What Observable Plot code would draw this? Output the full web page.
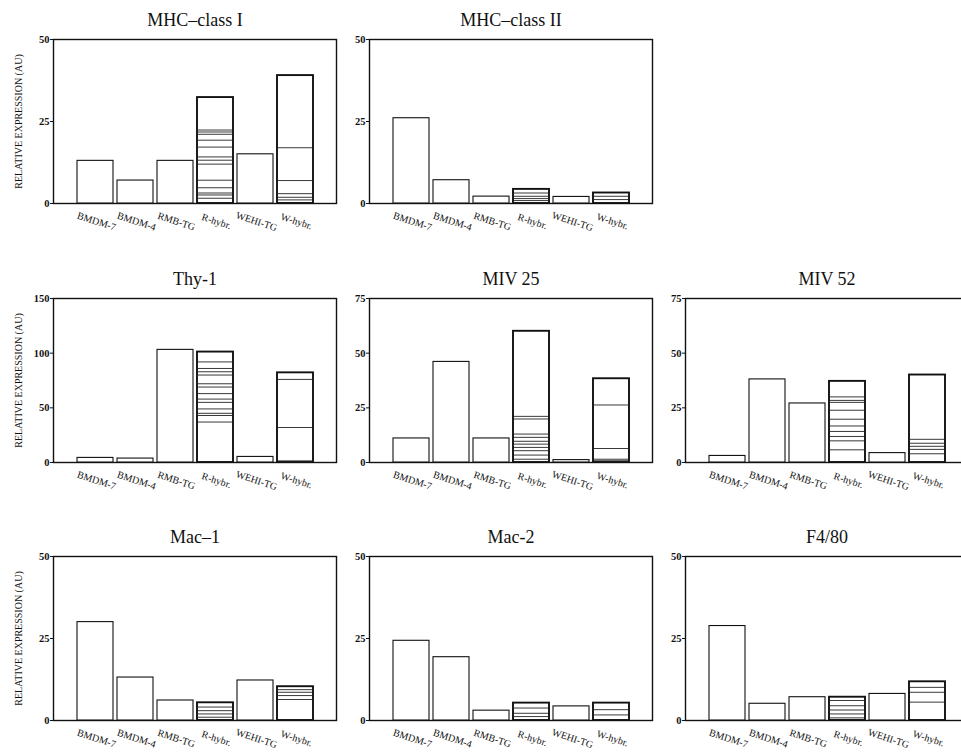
<!DOCTYPE html>
<html>
<head>
<meta charset="utf-8">
<script src="https://cdn.jsdelivr.net/npm/d3@7"></script>
<script src="https://cdn.jsdelivr.net/npm/@observablehq/plot@0.6"></script>
<style>
  html, body { margin: 0; padding: 0; background: #fff; }
  #chart { position: relative; width: 961px; height: 752px; overflow: hidden; background: #fff; }
  #chart > div { position: absolute; }
  #chart svg { max-width: none !important; }
</style>
</head>
<body>
<div id="chart"></div>
<script>
// ---- data ----
const categories = ["BMDM-7", "BMDM-4", "RMB-TG", "R-hybr.", "WEHI-TG", "W-hybr."];
const panelTitles = ["MHC–class I", "MHC–class II", "Thy-1", "MIV 25", "MIV 52", "Mac–1", "Mac-2", "F4/80"];
const yMaxima = [50, 50, 150, 75, 75, 50, 50, 50];
const yTickValues = [[0, 25, 50], [0, 25, 50], [0, 50, 100, 150], [0, 25, 50, 75], [0, 25, 50, 75], [0, 25, 50], [0, 25, 50], [0, 25, 50]];
const yAxisLabel = "RELATIVE EXPRESSION (AU)";

// bar heights per panel, in category order
const mhcI   = [13, 7, 13, 32.3, 15, 39];
const mhcII  = [26, 7.1, 2.1, 4.3, 2.0, 3.2];
const thy1   = [4.2, 3.6, 103, 101, 5.1, 82];
const miv25  = [11, 46, 11, 60, 1.1, 38.3];
const miv52  = [3.0, 38, 27, 37.1, 4.3, 40];
const mac1   = [30, 13.1, 6.1, 5.4, 12.2, 10.3];
const mac2   = [24.3, 19.3, 3.0, 5.3, 4.3, 5.3];
const f480   = [28.8, 5.1, 7.1, 7.1, 8.1, 11.8];

// individual hybrid-clone levels drawn as lines inside the R-hybr. and W-hybr. bars
const mhcIR  = [22.4, 21.8, 21.1, 19.3, 17.2, 14.2, 13.2, 12, 7.1, 4.8, 3.2, 2.6, 1.6];
const mhcIW  = [17, 7, 3, 1.9, 1.1];
const mhcIIR = [3.2, 2.2, 1.5, 0.9];
const mhcIIW = [2.2, 1.2];
const thy1R  = [92, 86, 83, 80, 72, 69, 63, 58, 55, 49, 45, 43, 37];
const thy1W  = [76, 32, 1.5];
const miv25R = [21.1, 19.9, 13, 11.5, 9.7, 8.4, 6.9, 5.4, 3.4, 1.5];
const miv25W = [26.3, 6.4, 1.5, 0.8];
const miv52R = [30, 28.4, 27.5, 23.9, 19.8, 16.7, 14.2, 11.9, 9.9, 5.8];
const miv52W = [10.6, 8.8, 7.4, 6, 4];
const mac1R  = [4.1, 3, 2, 1];
const mac1W  = [9.4, 8.6, 7.6, 6.4];
const mac2R  = [3.8, 2.2, 1.2];
const mac2W  = [3.3, 1.7];
const f480R  = [6.1, 4.5, 3.2, 2, 0.8];
const f480W  = [10.1, 8.6, 5.6];

const panelValues = [mhcI, mhcII, thy1, miv25, miv52, mac1, mac2, f480];
const panelRLines = [mhcIR, mhcIIR, thy1R, miv25R, miv52R, mac1R, mac2R, f480R];
const panelWLines = [mhcIW, mhcIIW, thy1W, miv25W, miv52W, mac1W, mac2W, f480W];

// ---- layout ----
const cells = [[0, 0], [1, 0], [0, 1], [1, 1], [2, 1], [0, 2], [1, 2], [2, 2]]; // [col,row]
const frameLeft = [53, 369, 685];
const frameTop = [39, 298, 556];
const FW = 283, FH = 164;
const ML = 50, MR = 10, MT = 34, MB = 40;
const font = "'Liberation Serif', 'DejaVu Serif', serif";

const chart = document.getElementById("chart");

panelTitles.forEach((title, i) => {
  const [col, row] = cells[i];
  const bars = categories.map((c, j) => ({cat: c, val: panelValues[i][j]}));
  const lines = [
    ...panelRLines[i].map(v => ({cat: categories[3], val: v})),
    ...panelWLines[i].map(v => ({cat: categories[5], val: v}))
  ];
  const marks = [
    Plot.frame({stroke: "#111", strokeWidth: 1.4}),
    Plot.barY(bars, {
      x: "cat", y: "val", fill: "white", stroke: "#111",
      strokeWidth: d => (d.cat === categories[3] || d.cat === categories[5]) ? 1.9 : 1.1
    }),
    Plot.tickY(lines, {x: "cat", y: "val", stroke: "#222", strokeWidth: 0.9, insetLeft: 1, insetRight: 1}),
    Plot.axisY({ticks: yTickValues[i], tickSize: 3, tickPadding: 1, fontSize: 10.5, fontWeight: "bold", label: null, stroke: "#111"}),
    Plot.text(categories, {x: d => d, frameAnchor: "bottom", dy: 21, rotate: 18, fontSize: 10, fill: "#111", letterSpacing: "0.3px"}),
    Plot.text([title], {frameAnchor: "top", dy: -14, lineAnchor: "bottom", fontSize: 18, fill: "#111", letterSpacing: "0.8px"})
  ];
  if (col === 0) {
    marks.push(Plot.text([yAxisLabel], {frameAnchor: "left", dx: -35, rotate: -90, textAnchor: "middle", fontSize: 10, fill: "#111", letterSpacing: "1.8px"}));
  }
  const W = ML + FW + MR, H = MT + FH + MB;
  const svg = Plot.plot({
    width: W,
    height: H,
    marginLeft: ML, marginRight: MR, marginTop: MT, marginBottom: MB,
    style: {fontFamily: font, background: "transparent", overflow: "visible", color: "#111", maxWidth: "none"},
    x: {type: "band", domain: categories, paddingInner: 0.1, paddingOuter: 0.5625, axis: null},
    y: {domain: [0, yMaxima[i]]},
    marks
  });
  const wrap = document.createElement("div");
  wrap.style.left = (frameLeft[col] - ML) + "px";
  wrap.style.top = (frameTop[row] - MT) + "px";
  wrap.style.width = W + "px";
  wrap.style.height = H + "px";
  wrap.appendChild(svg);
  chart.appendChild(wrap);
});
</script>
</body>
</html>
